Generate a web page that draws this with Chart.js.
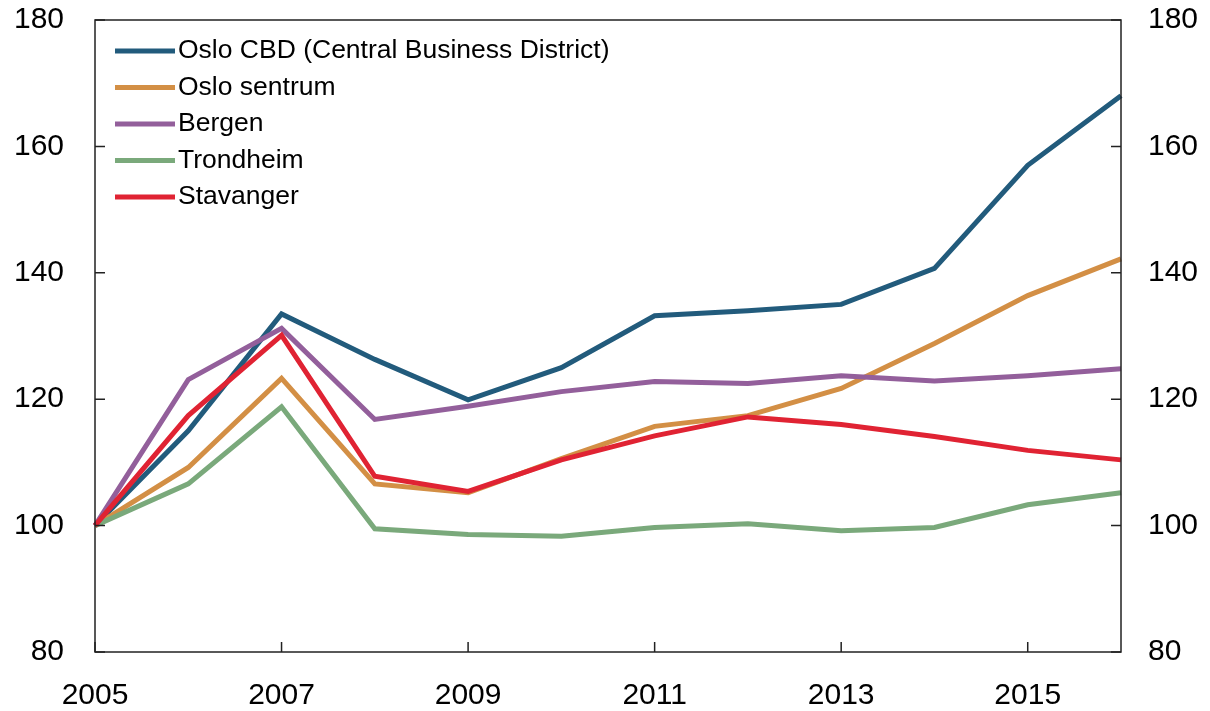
<!DOCTYPE html>
<html>
<head>
<meta charset="utf-8">
<script src="https://cdn.jsdelivr.net/npm/chart.js@4.4.1/dist/chart.umd.min.js"></script>
<style>
  html, body { margin: 0; padding: 0; background: #fff; }
  #wrap { width: 1210px; height: 711px; }
</style>
</head>
<body>
<div id="wrap"><canvas id="chart" width="1210" height="711"></canvas></div>
<script>
const years = ['2005', '2006', '2007', '2008', '2009', '2010', '2011', '2012', '2013', '2014', '2015', '2016'];
const shownYears = ['2005', '2007', '2009', '2011', '2013', '2015'];
const yTicks = [80, 100, 120, 140, 160, 180];

const osloCbd = [100, 115.0, 133.5, 126.3, 119.9, 125.0, 133.2, 134.0, 135.0, 140.7, 157.0, 168.0];
const osloSentrum = [100, 109.2, 123.3, 106.6, 105.2, 110.6, 115.7, 117.4, 121.7, 128.8, 136.4, 142.2];
const bergen = [100, 123.1, 131.2, 116.8, 118.9, 121.2, 122.8, 122.5, 123.7, 122.9, 123.7, 124.8];
const trondheim = [100, 106.6, 118.8, 99.5, 98.6, 98.3, 99.7, 100.3, 99.2, 99.7, 103.3, 105.2];
const stavanger = [100, 117.4, 130.1, 107.8, 105.4, 110.4, 114.2, 117.2, 116.0, 114.1, 111.9, 110.4];

const FONT = '"Liberation Sans", Arial, Helvetica, sans-serif';

const series = [
  { label: 'Oslo CBD (Central Business District)', data: osloCbd, color: '#225b7c' },
  { label: 'Oslo sentrum', data: osloSentrum, color: '#d38f45' },
  { label: 'Bergen', data: bergen, color: '#935f9b' },
  { label: 'Trondheim', data: trondheim, color: '#7aa97b' },
  { label: 'Stavanger', data: stavanger, color: '#e02333' }
];

const datasets = series.map((s, i) => ({
  label: s.label,
  data: s.data,
  borderColor: s.color,
  backgroundColor: s.color,
  borderWidth: 5,
  pointRadius: 0,
  tension: 0,
  fill: false,
  order: series.length - i
}));

// frame, inward ticks and legend drawn on top of the library scales
const framePlugin = {
  id: 'frame',
  afterDraw(chart) {
    const { ctx, chartArea: a, scales } = chart;
    ctx.save();
    ctx.strokeStyle = '#222';
    ctx.lineWidth = 1.5;
    ctx.strokeRect(a.left, a.top, a.right - a.left, a.bottom - a.top);
    ctx.beginPath();
    yTicks.forEach((v) => {
      const yl = scales.y.getPixelForValue(v);
      const yr = scales.y2.getPixelForValue(v);
      ctx.moveTo(a.left, yl);
      ctx.lineTo(a.left + 10, yl);
      ctx.moveTo(a.right, yr);
      ctx.lineTo(a.right - 10, yr);
    });
    shownYears.forEach((y) => {
      const x = scales.x.getPixelForValue(years.indexOf(y));
      ctx.moveTo(x, a.bottom);
      ctx.lineTo(x, a.bottom - 10);
    });
    ctx.stroke();

    // legend
    ctx.font = '26.5px ' + FONT;
    ctx.textBaseline = 'middle';
    ctx.textAlign = 'left';
    chart.data.datasets.forEach((ds, i) => {
      const y = a.top + 31 + i * 36.5;
      ctx.strokeStyle = ds.borderColor;
      ctx.lineWidth = 5;
      ctx.beginPath();
      ctx.moveTo(a.left + 20, y);
      ctx.lineTo(a.left + 80, y);
      ctx.stroke();
      ctx.fillStyle = '#000';
      ctx.fillText(ds.label, a.left + 83, y);
    });
    ctx.restore();
  }
};

const yAxis = (position, width, pad) => ({
  type: 'linear',
  position,
  min: 80,
  max: 180,
  afterBuildTicks: (scale) => { scale.ticks = yTicks.map((v) => ({ value: v })); },
  afterFit: (scale) => {
    scale.width = width;
    scale.paddingTop = 0;
    scale.paddingBottom = 0;
  },
  grid: { display: false, drawTicks: false },
  border: { display: false },
  ticks: { padding: pad, color: '#000', font: { family: FONT, size: 30 } }
});

new Chart(document.getElementById('chart'), {
  type: 'line',
  data: { labels: years, datasets },
  options: {
    responsive: false,
    animation: false,
    layout: { padding: { top: 20, left: 0, right: 0, bottom: 0 } },
    plugins: { legend: { display: false }, tooltip: { enabled: false } },
    scales: {
      x: {
        type: 'category',
        offset: false,
        afterFit: (scale) => {
          scale.height = 59;
          scale.paddingLeft = 0;
          scale.paddingRight = 0;
        },
        grid: { display: false, drawTicks: false },
        border: { display: false },
        ticks: {
          autoSkip: false,
          maxRotation: 0,
          padding: 26,
          color: '#000',
          font: { family: FONT, size: 30 },
          callback: (v, i) => (shownYears.includes(years[i]) ? years[i] : '')
        }
      },
      y: yAxis('left', 95, 31),
      y2: yAxis('right', 89, 27)
    }
  },
  plugins: [framePlugin]
});
</script>
</body>
</html>
